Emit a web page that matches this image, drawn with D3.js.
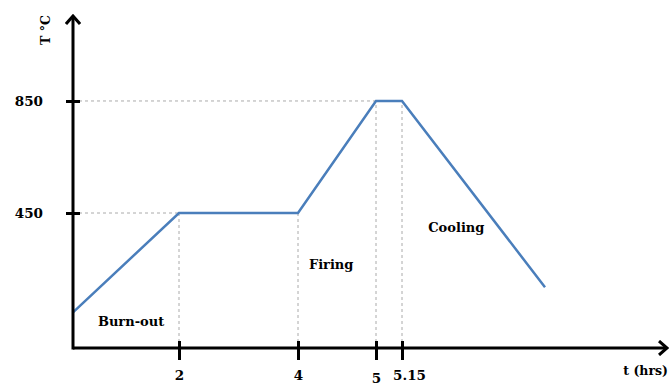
<!DOCTYPE html>
<html><head><meta charset="utf-8">
<script src="https://cdn.jsdelivr.net/npm/d3@7"></script>
<style>body{margin:0;background:#fff}svg{display:block}</style>
</head><body>
<script>
// Data
const times = [0, 2, 4, 5, 5.15, 7];          // hours
const temps = [95, 450, 450, 850, 850, 185];   // °C
const tickTimes = [2, 4, 5, 5.15];
const tickLabelsX = ["2", "4", "5", "5.15"];
const tickTemps = [450, 850];
const phases = ["Burn-out", "Firing", "Cooling"];
const phaseTimes = [0.47, 4.14, 5.49];
const phaseTemps = [47, 250, 382];
const guideTimes = [2, 4, 5, 5.15];
const guideTemps = [450, 450, 850, 850];

const W = 670, H = 385;
const svg = d3.select("body").append("svg").attr("width", W).attr("height", H);
const font = "'DejaVu Serif', serif";

// piecewise (non-uniform) time axis as drawn in the schematic
const x = d3.scaleLinear().domain([0, 2, 4, 5, 5.15, 7, 9.3]).range([73, 179, 298, 376, 402, 545, 668]);
const y = d3.scaleLinear().domain([-32, 1157]).range([348, 15]);

const defs = svg.append("defs");
defs.append("marker").attr("id", "arr").attr("viewBox", "-10 -8 12 16")
  .attr("refX", 0).attr("refY", 0).attr("markerWidth", 12).attr("markerHeight", 16)
  .attr("markerUnits", "userSpaceOnUse").attr("orient", "auto")
  .append("path").attr("d", "M-8,-7 L0,0 L-8,7").attr("fill", "none")
  .attr("stroke", "#000").attr("stroke-width", 3).attr("stroke-linejoin", "miter");

// guide lines
const g = svg.append("g").attr("stroke", "#aaa").attr("stroke-width", 1).attr("stroke-dasharray", "3,3");
tickTemps.forEach((t, i) => {
  const xe = t === 850 ? x(5) : x(2);
  g.append("line").attr("x1", x(0)).attr("x2", xe).attr("y1", y(t)).attr("y2", y(t));
});
guideTimes.forEach((t, i) => {
  g.append("line").attr("x1", x(t)).attr("x2", x(t)).attr("y1", y(-32)).attr("y2", y(guideTemps[i]));
});

// curve
const pts = times.map((t, i) => [t, temps[i]]);
svg.append("path").datum(pts)
  .attr("d", d3.line().x(d => x(d[0])).y(d => y(d[1])))
  .attr("fill", "none").attr("stroke", "#4a7ebb").attr("stroke-width", 2.5);

// axes lines with arrows
svg.append("line").attr("x1", x(0)).attr("x2", x(9.3) - 1).attr("y1", y(-32)).attr("y2", y(-32))
  .attr("stroke", "#000").attr("stroke-width", 3).attr("marker-end", "url(#arr)");
svg.append("line").attr("x1", x(0)).attr("x2", x(0)).attr("y1", y(-32) + 1.5).attr("y2", y(1157) + 1)
  .attr("stroke", "#000").attr("stroke-width", 3).attr("marker-end", "url(#arr)");

// x ticks
const xAxis = svg.append("g").attr("transform", `translate(0,${y(-32)})`)
  .call(d3.axisBottom(x).tickValues(tickTimes).tickFormat((d, i) => tickLabelsX[i]).tickSize(12).tickSizeOuter(0));
xAxis.select(".domain").remove();
xAxis.selectAll(".tick line").attr("stroke", "#000").attr("stroke-width", 3).attr("y1", -7).attr("y2", 12);
xAxis.selectAll(".tick text").attr("font-family", font).attr("font-weight", "bold").attr("font-size", 13.5)
  .attr("fill", "#000").attr("y", 22)
  .attr("dx", (d) => d === 5.15 ? 7 : 0)
  .attr("dy", (d) => d === 5 ? "0.95em" : "0.71em");

// y ticks
const yAxis = svg.append("g").attr("transform", `translate(${x(0)},0)`)
  .call(d3.axisLeft(y).tickValues(tickTemps).tickSize(7).tickSizeOuter(0));
yAxis.select(".domain").remove();
yAxis.selectAll(".tick line").attr("stroke", "#000").attr("stroke-width", 3).attr("x1", 7).attr("x2", -7);
yAxis.selectAll(".tick text").attr("font-family", font).attr("font-weight", "bold").attr("font-size", 13.5)
  .attr("fill", "#000").attr("x", -30).attr("dy", "0.32em").attr("text-anchor", "end");

// axis titles
svg.append("text").attr("transform", `translate(50,30) rotate(-90)`).attr("text-anchor", "middle")
  .attr("font-family", font).attr("font-weight", "bold").attr("font-size", 12.5).text("T °C");
svg.append("text").attr("x", 668).attr("y", 375).attr("text-anchor", "end")
  .attr("font-family", font).attr("font-weight", "bold").attr("font-size", 12.5).text("t (hrs)");

// phase labels
phases.forEach((p, i) => {
  svg.append("text").attr("x", x(phaseTimes[i])).attr("y", y(phaseTemps[i]))
    .attr("font-family", font).attr("font-weight", "bold").attr("font-size", 13).text(p);
});
</script>
</body></html>
